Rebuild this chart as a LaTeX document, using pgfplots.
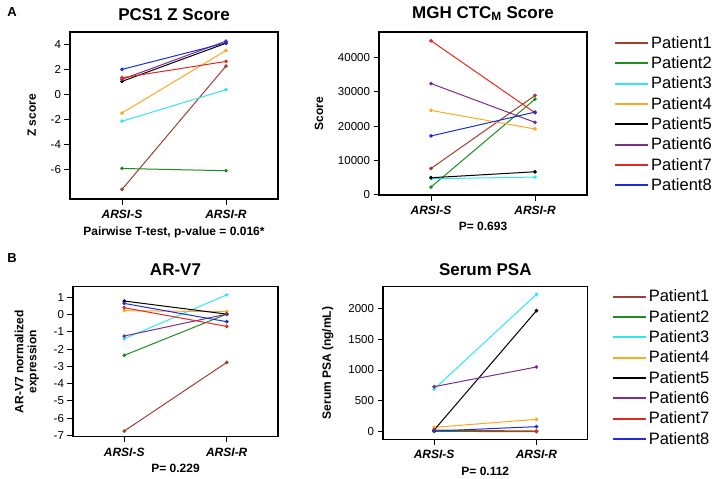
\documentclass[border=0pt]{standalone}
\usepackage{pgfplots}
\pgfplotsset{compat=1.18}
\usepackage{fontspec}
\setmainfont{Liberation Sans}
\definecolor{pA}{HTML}{A0402F}
\definecolor{pB}{HTML}{1E8C1E}
\definecolor{pC}{HTML}{30E8F2}
\definecolor{pD}{HTML}{FFA820}
\definecolor{pE}{HTML}{000000}
\definecolor{pF}{HTML}{7A2F8F}
\definecolor{pG}{HTML}{E8281E}
\definecolor{pH}{HTML}{1A2EDB}
\pgfplotsset{
  pstyle/.style={
    scale only axis,
    xmin=0.5, xmax=2.5, xtick={1,2}, xticklabels={ARSI-S,ARSI-R},
    x tick label style={font=\fontsize{12}{13}\selectfont\bfseries\itshape, yshift=-2pt},
    y tick label style={font=\fontsize{11.5}{13}\selectfont},
    /pgf/number format/assume math mode=true,
    /pgf/number format/1000 sep={},
    scaled y ticks=false,
    tick align=outside, major tick length=5.5pt, tick pos=left,
    axis line style={line width=1.2pt},
    every tick/.style={black, line width=0.9pt},
    label style={font=\bfseries\fontsize{12}{13}\selectfont},
    xlabel style={yshift=-1pt},
    ylabel style={yshift=8pt},
    title style={font=\bfseries\fontsize{17}{19}\selectfont, yshift=1.5pt},
    every axis plot/.append style={line width=1pt, mark=*, mark size=1.3pt},
    legend style={draw=none, fill=none,
      font=\fontsize{16.5}{18}\selectfont, row sep=2.9pt, inner sep=0pt},
    legend cell align=left,
    legend image code/.code={\draw[##1, mark=none, line width=2pt] (0pt,0pt) -- (33pt,0pt);},
  }
}
\begin{document}
\begin{tikzpicture}
\path (0pt,0pt) rectangle (720pt,478pt);
% PCS1
\begin{axis}[pstyle, at={(70pt,279pt)}, anchor=south west, width=208pt, height=167pt,
  ymin=-8.4, ymax=5, ytick={-6,-4,-2,0,2,4},
  title={PCS1 Z Score}, ylabel={Z score},
  xlabel={Pairwise T-test, p-value = 0.016*}]
\addplot[pA] coordinates {(1,-7.63) (2,2.27)};
\addplot[pB] coordinates {(1,-5.95) (2,-6.13)};
\addplot[pC] coordinates {(1,-2.16) (2,0.37)};
\addplot[pD] coordinates {(1,-1.5) (2,3.52)};
\addplot[pE] coordinates {(1,1.04) (2,4.1)};
\addplot[pF] coordinates {(1,1.2) (2,4.27)};
\addplot[pG] coordinates {(1,1.33) (2,2.64)};
\addplot[pH] coordinates {(1,2.0) (2,4.13)};
\end{axis}
% MGH
\begin{axis}[pstyle, at={(379pt,283pt)}, anchor=south west, width=208pt, height=163pt,
  ymin=-100, ymax=47500, ytick={0,10000,20000,30000,40000},
  title={MGH CTC\textsubscript{M} Score}, ylabel={Score},
  xlabel={P= 0.693},
  legend style={at={(1,1)}, anchor=north west, xshift=27pt, yshift=-2pt}]
\addplot[pA] coordinates {(1,7650) (2,28960)};
\addplot[pB] coordinates {(1,2230) (2,27890)};
\addplot[pC] coordinates {(1,4650) (2,5130)};
\addplot[pD] coordinates {(1,24600) (2,19180)};
\addplot[pE] coordinates {(1,4940) (2,6680)};
\addplot[pF] coordinates {(1,32450) (2,21110)};
\addplot[pG] coordinates {(1,44940) (2,23920)};
\addplot[pH] coordinates {(1,17140) (2,24110)};
\legend{Patient1,Patient2,Patient3,Patient4,Patient5,Patient6,Patient7,Patient8}
\end{axis}
% AR-V7
\begin{axis}[pstyle, at={(73pt,41.3pt)}, anchor=south west, width=205pt, height=150pt,
  ymin=-7.08, ymax=1.62, ytick={-7,-6,-5,-4,-3,-2,-1,0,1},
  title={AR-V7}, ylabel={AR-V7 normalized\\expression},
  ylabel style={align=center},
  xlabel={P= 0.229}]
\addplot[pA] coordinates {(1,-6.75) (2,-2.77)};
\addplot[pB] coordinates {(1,-2.36) (2,0.03)};
\addplot[pC] coordinates {(1,-1.4) (2,1.15)};
\addplot[pD] coordinates {(1,0.23) (2,0.17)};
\addplot[pE] coordinates {(1,0.79) (2,0.03)};
\addplot[pF] coordinates {(1,-1.24) (2,0.03)};
\addplot[pG] coordinates {(1,0.4) (2,-0.68)};
\addplot[pH] coordinates {(1,0.65) (2,-0.41)};
\end{axis}
% PSA
\begin{axis}[pstyle, at={(383pt,38.7pt)}, anchor=south west, width=204.6pt, height=152.6pt,
  ymin=-124, ymax=2351, ytick={0,500,1000,1500,2000},
  title={Serum PSA}, ylabel={Serum PSA (ng/mL)},
  xlabel={P= 0.112},
  legend style={at={(1,1)}, anchor=north west, xshift=24pt, yshift=-1pt}]
\addplot[pA] coordinates {(1,10) (2,5)};
\addplot[pB] coordinates {(1,3) (2,2)};
\addplot[pC] coordinates {(1,692) (2,2227)};
\addplot[pD] coordinates {(1,70) (2,200)};
\addplot[pE] coordinates {(1,27) (2,1962)};
\addplot[pF] coordinates {(1,730) (2,1049)};
\addplot[pG] coordinates {(1,25) (2,10)};
\addplot[pH] coordinates {(1,10) (2,81)};
\legend{Patient1,Patient2,Patient3,Patient4,Patient5,Patient6,Patient7,Patient8}
\end{axis}
\node[font=\bfseries\fontsize{13}{15}\selectfont] at (12pt,466pt) {A};
\node[font=\bfseries\fontsize{13}{15}\selectfont] at (12pt,220pt) {B};
\end{tikzpicture}
\end{document}
